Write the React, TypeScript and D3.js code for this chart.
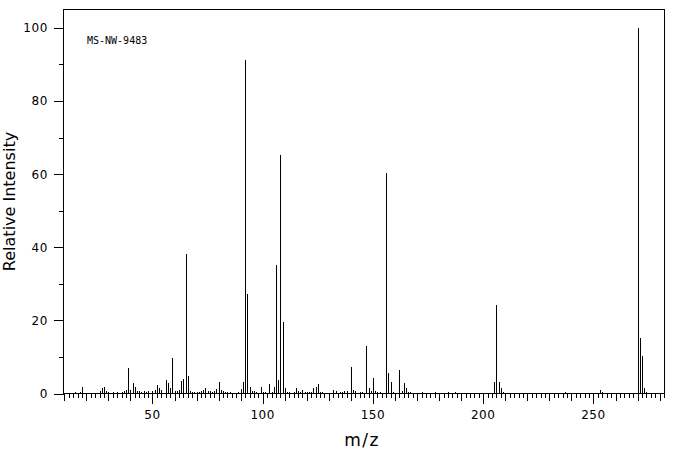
import * as d3 from "d3";

// mass spectrum peaks
const mzValues = [
  15, 17, 18, 26, 27, 28, 29, 30, 32, 34, 36, 37, 38, 39, 40, 41, 42, 43, 44, 45,
  46, 47, 48, 50, 51, 52, 53, 54, 56, 57, 58, 59, 60, 61, 62, 63, 64, 65, 66, 67,
  68, 69, 70, 71, 72, 73, 74, 75, 76, 77, 78, 79, 80, 81, 82, 83, 84, 85, 89, 90,
  91, 92, 93, 94, 95, 96, 97, 99, 100, 101, 103, 104, 105, 106, 107, 108, 109, 110, 111, 112,
  114, 115, 116, 117, 118, 119, 120, 121, 122, 123, 124, 125, 126, 127, 132, 133, 135, 136, 137, 138,
  140, 141, 142, 144, 145, 147, 148, 149, 150, 151, 152, 153, 156, 157, 158, 159, 162, 163, 164, 165,
  166, 167, 172, 178, 184, 187, 205, 206, 207, 208, 209, 237, 253, 254, 270, 271, 272, 273, 274,
];
const intensities = [
  0.4, 0.3, 1.7, 0.6, 1.5, 1.7, 0.6, 0.4, 0.4, 0.4, 0.4, 0.6, 0.9, 7.0, 0.9, 2.8, 1.7, 0.6, 0.6, 0.4,
  0.6, 0.4, 0.6, 0.6, 0.9, 2.3, 1.5, 0.9, 3.6, 2.8, 1.5, 9.6, 0.6, 0.6, 0.9, 3.4, 3.9, 38.2, 4.7, 0.6,
  0.4, 0.4, 0.4, 0.4, 0.6, 0.9, 1.5, 0.6, 0.6, 0.4, 0.6, 1.2, 3.1, 0.9, 0.6, 0.4, 0.4, 0.4, 0.4, 1.2,
  3.1, 91.3, 27.3, 1.7, 0.6, 0.6, 0.4, 1.7, 0.4, 0.4, 2.5, 0.4, 1.7, 35.2, 3.6, 65.3, 19.5, 1.5, 0.4, 0.4,
  0.4, 1.5, 0.6, 0.4, 0.9, 0.4, 0.4, 0.4, 0.4, 1.5, 1.7, 2.5, 0.4, 0.4, 0.9, 0.6, 0.4, 0.4, 0.6, 0.6,
  7.3, 0.9, 0.6, 0.4, 0.4, 12.9, 1.5, 0.6, 4.2, 0.6, 0.4, 0.4, 60.3, 5.6, 3.2, 0.4, 6.4, 0.6, 2.8, 1.5,
  0.4, 0.4, 0.4, 0.4, 0.4, 0.4, 3.1, 24.3, 3.1, 1.5, 0.4, 0.4, 0.9, 0.4, 100, 15.1, 10.2, 1.5, 0.4,
];

const xTickLabels = [50, 100, 150, 200, 250];
const yTickLabels = [0, 20, 40, 60, 80, 100];
const sampleId = "MS-NW-9483";

const W = 676;
const H = 455;
const left = 63.5;
const right = 664.5;
const top = 9.5;
const bottom = 393.5;

const font = "'DejaVu Sans', sans-serif";

export default function App() {
  const x = d3.scaleLinear().domain([9.64, 282.2]).range([left, right]);
  const y = d3.scaleLinear().domain([0, 105]).range([bottom, top]);

  // minor ticks every 2, medium every 10, major every 50
  const xTicks = d3.range(10, 283, 2);
  const yTicks = d3.range(0, 101, 10);

  const peaks = mzValues.map((m, i) => ({ m, v: intensities[i] }));

  return (
    <svg
      width={W}
      height={H}
      style={{ position: "absolute", left: 0, top: 0, background: "#fff" }}
    >
      <rect x={0} y={0} width={W} height={H} fill="#fff" />

      {/* peaks */}
      <g stroke="#000" strokeWidth={1} shapeRendering="crispEdges">
        {peaks.map((p) => (
          <line
            key={p.m}
            x1={Math.round(x(p.m)) + 0.5}
            x2={Math.round(x(p.m)) + 0.5}
            y1={y(0)}
            y2={y(p.v)}
          />
        ))}
      </g>

      {/* frame */}
      <rect
        x={left}
        y={top}
        width={right - left}
        height={bottom - top}
        fill="none"
        stroke="#000"
        strokeWidth={1}
        shapeRendering="crispEdges"
      />

      {/* x axis ticks */}
      <g stroke="#000" strokeWidth={1} shapeRendering="crispEdges">
        {xTicks.map((t) => {
          const len = t % 50 === 0 ? 10 : t % 10 === 0 ? 7 : 4;
          const px = Math.round(x(t)) + 0.5;
          return <line key={t} x1={px} x2={px} y1={bottom} y2={bottom + len} />;
        })}
      </g>
      <g fontFamily={font} fontSize={12} letterSpacing={0.6} fill="#000" textAnchor="middle">
        {xTickLabels.map((t) => (
          <text key={t} x={x(t)} y={419}>
            {t}
          </text>
        ))}
      </g>

      {/* y axis ticks */}
      <g stroke="#000" strokeWidth={1} shapeRendering="crispEdges">
        {yTicks.map((t) => {
          const len = t % 20 === 0 ? 10 : 5;
          const py = Math.round(y(t)) + 0.5;
          return <line key={t} x1={left - len} x2={left} y1={py} y2={py} />;
        })}
      </g>
      <g fontFamily={font} fontSize={12} letterSpacing={0.6} fill="#000" textAnchor="end">
        {yTickLabels.map((t) => (
          <text key={t} x={48} y={y(t) + 4.5}>
            {t}
          </text>
        ))}
      </g>

      {/* axis titles */}
      <text
        x={(left + right) / 2 - 2}
        y={446}
        fontFamily={font}
        fontSize={17}
        letterSpacing={1.5}
        textAnchor="middle"
        fill="#000"
      >
        m/z
      </text>
      <text
        transform={`translate(15, ${(top + bottom) / 2}) rotate(-90)`}
        fontFamily={font}
        fontSize={16}
        textAnchor="middle"
        fill="#000"
      >
        Relative Intensity
      </text>

      <text x={87} y={44} fontFamily="'DejaVu Sans Mono', monospace" fontSize={10} fill="#000">
        {sampleId}
      </text>
    </svg>
  );
}
